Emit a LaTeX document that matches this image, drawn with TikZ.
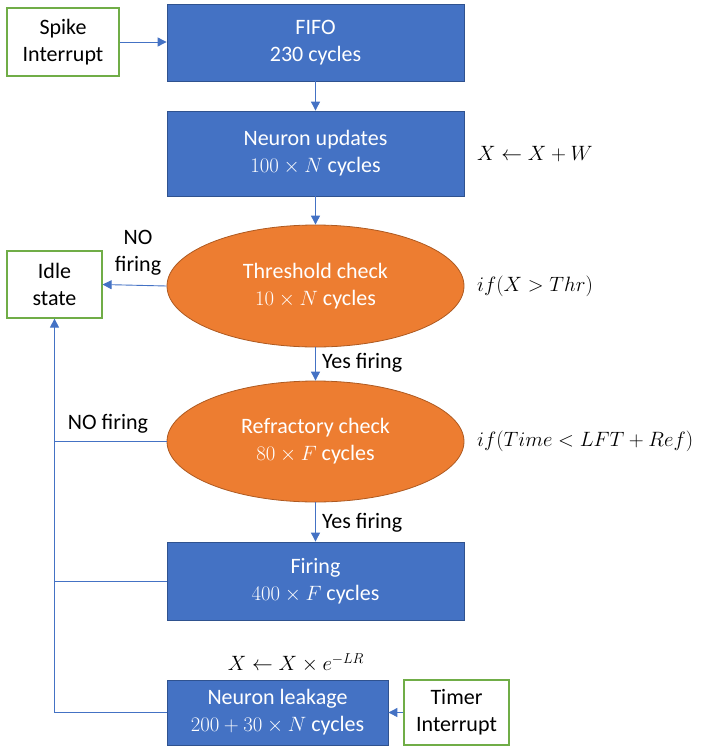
\documentclass[tikz,border=0pt]{standalone}
\usepackage{fontspec}
\setmainfont{Carlito}
\usetikzlibrary{shapes.geometric,arrows.meta}
\definecolor{boxblue}{HTML}{4472C4}
\definecolor{boxblueedge}{HTML}{2F528F}
\definecolor{ellorange}{HTML}{ED7D31}
\definecolor{ellorangeedge}{HTML}{AE5A21}
\definecolor{greenedge}{HTML}{70AD47}
\definecolor{linkblue}{HTML}{4472C4}
\tikzset{
  bluebox/.style={rectangle, fill=boxblue, draw=boxblueedge, line width=0.8pt, text=white, align=center, inner sep=0pt},
  orangeell/.style={ellipse, fill=ellorange, draw=ellorangeedge, line width=0.8pt, text=white, align=center, inner sep=0pt},
  greenbox/.style={rectangle, fill=white, draw=greenedge, line width=1.2pt, text=black, align=center, inner sep=0pt},
  link/.style={draw=linkblue, line width=0.9pt},
  arr/.style={link, -{Triangle[length=9pt,width=9pt]}},
  lbl/.style={text=black, align=center, inner sep=0pt},
}
\begin{document}
\begin{tikzpicture}[x=1pt,y=-1pt, font=\fontsize{22}{27}\selectfont]
\useasboundingbox (0,0) rectangle (701,747);
\node[greenbox, minimum width=112pt, minimum height=68pt] (spike) at (63,42) {Spike\\Interrupt};
\node[bluebox, minimum width=297pt, minimum height=77pt] (fifo) at (315.5,42.5) {FIFO\\230 cycles};
\node[bluebox, minimum width=297pt, minimum height=85pt] (nu) at (315.5,153.5) {Neuron updates\\$100\times N$ cycles};
\node[orangeell, minimum width=297pt, minimum height=122pt] (thr) at (315.5,286) {Threshold check\\$10\times N$ cycles};
\node[greenbox, minimum width=95pt, minimum height=67pt] (idle) at (54.5,284.5) {Idle\\state};
\node[orangeell, minimum width=297pt, minimum height=121pt] (ref) at (315.5,441.5) {Refractory check\\$80\times F$ cycles};
\node[bluebox, minimum width=297pt, minimum height=78pt] (fire) at (315.5,581) {Firing\\$400\times F$ cycles};
\node[bluebox, minimum width=221pt, minimum height=65pt] (leak) at (277.5,712.5) {Neuron leakage\\$200+30\times N$ cycles};
\node[greenbox, minimum width=105pt, minimum height=65pt] (timer) at (456.5,712.5) {Timer\\Interrupt};

\node[lbl, anchor=west] (eq1) at (477,154) {$X \leftarrow X + W$};
\node[lbl, anchor=west] (eq2) at (477,286) {$if(X > Thr)$};
\node[lbl, anchor=west] (eq3) at (477,441) {$if(Time < LFT + Ref)$};
\node[lbl] (eq4) at (296,663) {$X \leftarrow X \times e^{-LR}$};

\draw[arr] (spike.east) -- (spike.east -| fifo.west);
\draw[arr] (fifo.south) -- (nu.north);
\draw[arr] (nu.south) -- (thr.north);
\draw[arr] (thr.west) -- (idle.east);
\node[lbl] (nofire1) at (138,253) {NO\\firing};
\draw[arr] (thr.south) -- (ref.north);
\node[lbl, anchor=west] (yes1) at (322,363) {Yes firing};
\draw[arr] (ref.south) -- (fire.north);
\node[lbl, anchor=west] (yes2) at (322,523) {Yes firing};
\coordinate (jref) at (idle.south |- ref.west);
\coordinate (jfire) at (idle.south |- fire.west);
\draw[link] (ref.west) -- (jref);
\node[lbl] (nofire2) at (108,424) {NO firing};
\draw[link] (fire.west) -- (jfire);
\draw[arr] (leak.west) -| (idle.south);
\draw[arr] (timer.west) -- (leak.east);
\end{tikzpicture}
\end{document}
